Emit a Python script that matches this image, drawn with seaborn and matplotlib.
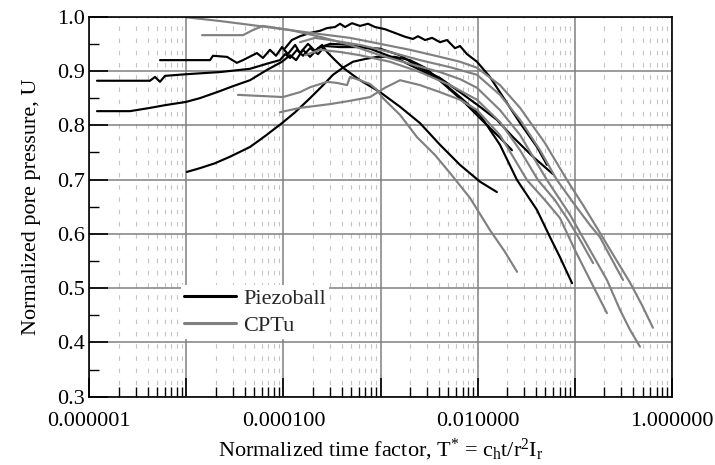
import numpy as np
import pandas as pd
import matplotlib
matplotlib.use("Agg")
import matplotlib.pyplot as plt
import seaborn as sns
from matplotlib.ticker import LogLocator, FixedLocator, FixedFormatter, MultipleLocator, NullFormatter

# ---------------- data ----------------
# Piezoball curves
pb1_T = [1.20e-6, 4.22e-6, 4.75e-6, 5.35e-6, 6.02e-6, 9.9e-6, 2.22e-5, 4.52e-5, 7.26e-5, 9.2e-5, 1.04e-4,
         1.17e-4, 1.38e-4, 1.59e-4, 1.88e-4, 2.27e-4, 2.68e-4, 3.83e-4, 6.15e-4, 9.9e-4, 1.59e-3, 2.55e-3,
         4.10e-3, 6.59e-3, 1.06e-2, 1.58e-2, 2.32e-2, 3.72e-2, 5.98e-2]
pb1_U = [0.882, 0.882, 0.889, 0.880, 0.891, 0.894, 0.898, 0.904, 0.915, 0.920, 0.931,
         0.924, 0.939, 0.928, 0.942, 0.931, 0.946, 0.944, 0.944, 0.941, 0.929, 0.906,
         0.887, 0.861, 0.834, 0.810, 0.778, 0.742, 0.710]

pb2_T = [5.35e-6, 1.75e-5, 1.88e-5, 2.62e-5, 3.31e-5, 3.83e-5, 5.33e-5, 6.15e-5, 7.26e-5, 8.38e-5, 9.66e-5,
         1.11e-4, 1.32e-4, 1.48e-4, 1.79e-4, 2.11e-4, 2.50e-4, 2.81e-4, 3.40e-4, 4.10e-4, 6.15e-4, 9.9e-4,
         1.59e-3, 2.55e-3, 4.10e-3, 6.59e-3, 1.06e-2, 1.58e-2]
pb2_U = [0.920, 0.920, 0.928, 0.926, 0.915, 0.920, 0.933, 0.924, 0.939, 0.928, 0.944,
         0.931, 0.948, 0.933, 0.950, 0.937, 0.948, 0.935, 0.920, 0.906, 0.883, 0.861,
         0.834, 0.804, 0.764, 0.727, 0.696, 0.677]

pb3_T = [1.20e-6, 2.63e-6, 4.22e-6, 6.02e-6, 9.9e-6, 1.38e-5, 2.07e-5, 3.02e-5, 4.52e-5, 6.77e-5, 9.66e-5,
         1.17e-4, 1.35e-4, 1.59e-4, 1.88e-4, 2.27e-4, 3.02e-4, 4.85e-4, 7.8e-4, 1.59e-3, 2.55e-3, 4.10e-3,
         6.59e-3, 1.06e-2, 1.70e-2, 2.55e-2, 4.09e-2, 5.57e-2, 7.06e-2, 9.4e-2]
pb3_U = [0.826, 0.826, 0.832, 0.837, 0.843, 0.850, 0.861, 0.872, 0.883, 0.902, 0.917,
         0.929, 0.920, 0.939, 0.926, 0.942, 0.950, 0.948, 0.941, 0.920, 0.902, 0.883,
         0.852, 0.819, 0.764, 0.699, 0.644, 0.594, 0.557, 0.509]

pb4_T = [1.01e-5, 1.38e-5, 1.97e-5, 2.81e-5, 4.52e-5, 6.46e-5, 9.66e-5, 1.32e-4, 1.88e-4, 2.50e-4, 3.24e-4,
         4.10e-4, 5.20e-4, 6.92e-4, 9.2e-4, 1.41e-3, 2.01e-3, 2.88e-3, 4.61e-3, 7.41e-3, 1.19e-2, 1.70e-2,
         2.26e-2]
pb4_U = [0.714, 0.721, 0.730, 0.742, 0.760, 0.780, 0.804, 0.824, 0.850, 0.872, 0.893,
         0.906, 0.917, 0.922, 0.926, 0.926, 0.920, 0.906, 0.874, 0.841, 0.804, 0.777,
         0.754]

pb5_T = [1.04e-4, 1.22e-4, 1.48e-4, 1.88e-4, 2.38e-4, 2.81e-4, 3.40e-4, 3.83e-4, 4.31e-4, 5.08e-4, 6.15e-4,
         7.43e-4, 8.77e-4, 1.11e-3, 1.41e-3, 1.79e-3, 2.16e-3, 2.43e-3, 2.88e-3, 3.40e-3, 4.10e-3, 4.84e-3,
         5.85e-3, 6.59e-3, 7.78e-3, 9.86e-3, 1.34e-2, 1.83e-2, 2.74e-2, 4.09e-2, 5.19e-2]
pb5_U = [0.942, 0.957, 0.964, 0.970, 0.974, 0.979, 0.981, 0.987, 0.981, 0.988, 0.983,
         0.987, 0.981, 0.977, 0.970, 0.963, 0.959, 0.964, 0.957, 0.961, 0.953, 0.957,
         0.942, 0.946, 0.931, 0.917, 0.889, 0.852, 0.804, 0.760, 0.727]

# CPTu curves
cp1_T = [9.9e-6, 2.22e-5, 4.52e-5, 9.89e-5, 2.38e-4, 4.85e-4, 9.9e-4, 2.01e-3, 4.10e-3, 6.59e-3, 9.86e-3,
         1.70e-2, 2.74e-2, 4.95e-2, 8.34e-2, 0.122, 0.182, 0.260, 0.372, 0.493, 0.640]
cp1_U = [0.999, 0.992, 0.985, 0.977, 0.968, 0.961, 0.950, 0.939, 0.926, 0.917, 0.906,
         0.874, 0.832, 0.767, 0.699, 0.653, 0.602, 0.556, 0.510, 0.469, 0.427]

cp2_T = [1.45e-5, 3.83e-5, 4.86e-5, 6.15e-5, 1.17e-4, 2.38e-4, 4.85e-4, 9.9e-4, 2.01e-3, 4.10e-3, 6.59e-3,
         9.86e-3, 1.70e-2, 2.74e-2, 5.19e-2, 8.96e-2, 0.144, 0.215, 0.293, 0.372, 0.471]
cp2_U = [0.966, 0.966, 0.9755, 0.983, 0.9755, 0.963, 0.948, 0.929, 0.913, 0.898, 0.885,
         0.869, 0.828, 0.782, 0.699, 0.635, 0.570, 0.515, 0.460, 0.423, 0.392]

cp3_T = [1.48e-4, 2.11e-4, 3.02e-4, 6.15e-4, 1.25e-3, 2.55e-3, 5.2e-3, 9.86e-3, 1.70e-2, 2.74e-2, 4.40e-2,
         6.58e-2, 0.1007, 0.144, 0.182, 0.243, 0.315]
cp3_U = [0.953, 0.961, 0.957, 0.948, 0.935, 0.920, 0.907, 0.893, 0.856, 0.810, 0.754,
         0.699, 0.653, 0.616, 0.594, 0.552, 0.515]

cp4_T = [1.67e-4, 2.38e-4, 3.83e-4, 6.15e-4, 1.25e-3, 2.55e-3, 5.2e-3, 9.86e-3, 1.70e-2, 2.74e-2, 4.19e-2,
         6.27e-2, 8.53e-2, 0.1135, 0.155]
cp4_U = [0.929, 0.939, 0.935, 0.929, 0.917, 0.898, 0.874, 0.847, 0.806, 0.754, 0.699,
         0.662, 0.626, 0.589, 0.546]

cp5_T = [9.2e-5, 1.48e-4, 3.02e-4, 4.85e-4, 7.8e-4, 1.11e-3, 1.59e-3, 2.55e-3, 4.10e-3, 6.59e-3, 9.86e-3,
         1.70e-2, 2.43e-2, 3.23e-2, 4.95e-2, 7.06e-2, 0.1007, 0.144, 0.215]
cp5_U = [0.824, 0.832, 0.839, 0.845, 0.852, 0.869, 0.883, 0.874, 0.861, 0.847, 0.828,
         0.782, 0.736, 0.699, 0.662, 0.629, 0.570, 0.515, 0.454]

cp6_T = [3.40e-5, 5.73e-5, 9.89e-5, 1.48e-4, 1.88e-4, 2.81e-4, 3.56e-4, 4.52e-4, 4.85e-4, 6.15e-4, 7.8e-4,
         9.2e-4, 1.06e-3, 1.59e-3, 2.38e-3, 3.65e-3, 5.2e-3, 8.36e-3, 1.34e-2, 1.91e-2, 2.55e-2]
cp6_U = [0.856, 0.854, 0.852, 0.861, 0.870, 0.880, 0.878, 0.874, 0.889, 0.883, 0.876,
         0.865, 0.850, 0.819, 0.778, 0.745, 0.712, 0.666, 0.607, 0.567, 0.530]

curve_types = ["Piezoball", "CPTu"]
x_tick_labels = ["0.000001", "", "0.000100", "", "0.010000", "", "1.000000"]

# ---------------- build long table ----------------
curves = [
    ("pb1", "Piezoball", pb1_T, pb1_U), ("pb2", "Piezoball", pb2_T, pb2_U),
    ("pb3", "Piezoball", pb3_T, pb3_U), ("pb4", "Piezoball", pb4_T, pb4_U),
    ("pb5", "Piezoball", pb5_T, pb5_U),
    ("cp1", "CPTu", cp1_T, cp1_U), ("cp2", "CPTu", cp2_T, cp2_U),
    ("cp3", "CPTu", cp3_T, cp3_U), ("cp4", "CPTu", cp4_T, cp4_U),
    ("cp5", "CPTu", cp5_T, cp5_U), ("cp6", "CPTu", cp6_T, cp6_U),
]
rows = []
for name, kind, T, U in curves:
    for i, (t, u) in enumerate(zip(T, U)):
        rows.append({"curve": name, "type": kind, "order": i, "T": t, "U": u})
df = pd.DataFrame(rows)

# ---------------- style ----------------
sns.set_theme(style="white")
plt.rcParams["font.family"] = ["Liberation Serif", "DejaVu Serif"]
plt.rcParams["mathtext.fontset"] = "custom"
plt.rcParams["mathtext.rm"] = "Liberation Serif"
plt.rcParams["mathtext.it"] = "Liberation Serif"
plt.rcParams["mathtext.default"] = "rm"

fig = plt.figure(figsize=(7.15, 4.65), dpi=100)
ax = fig.add_axes([0.1249, 0.1469, 0.8146, 0.8172])

ax.set_xscale("log")
ax.set_axisbelow(True)

sns.lineplot(data=df, x="T", y="U", hue="type", hue_order=curve_types,
             units="curve", estimator=None, sort=False,
             palette={"Piezoball": "black", "CPTu": "#808080"},
             linewidth=1.55, ax=ax)

ax.set_xlim(1e-6, 1.0)
ax.set_ylim(0.3, 1.0)

# ticks
ax.xaxis.set_major_locator(FixedLocator([1e-6, 1e-5, 1e-4, 1e-3, 1e-2, 1e-1, 1e0]))
ax.xaxis.set_major_formatter(FixedFormatter(x_tick_labels))
ax.xaxis.set_minor_locator(LogLocator(base=10, subs=np.arange(2, 10), numticks=20))
ax.xaxis.set_minor_formatter(NullFormatter())
ax.yaxis.set_major_locator(MultipleLocator(0.1))
ax.yaxis.set_minor_locator(MultipleLocator(0.05))
ax.yaxis.set_major_formatter(matplotlib.ticker.FormatStrFormatter("%.1f"))

ax.tick_params(which="major", direction="in", length=13.5, width=1.2, color="black",
               labelsize=16, labelcolor="black", bottom=True, left=True, top=False, right=False)
ax.tick_params(which="minor", direction="in", length=7, width=1.0, color="black",
               bottom=True, left=True, top=False, right=False)
ax.tick_params(axis="x", which="major", pad=11)
ax.tick_params(axis="y", which="major", pad=3)

# grid
ax.grid(which="major", axis="both", color="#808080", linewidth=1.1, linestyle="-")
ax.grid(which="minor", axis="x", color="#c4c4c4", linewidth=0.8, linestyle=(0, (4, 7)))

for sp in ax.spines.values():
    sp.set_color("black")
    sp.set_linewidth(1.2)
    sp.set_visible(True)

ax.set_xlabel(r"Normalized time factor, T$^{*}$ = c$_{\mathrm{h}}$t/r$^{2}$I$_{\mathrm{r}}$",
              fontsize=16, color="black", labelpad=4)
ax.set_ylabel("Normalized pore pressure, U", fontsize=16, color="black", labelpad=12)

handles, labels = ax.get_legend_handles_labels()
leg = ax.legend(handles, labels, loc="upper left", bbox_to_anchor=(0.157, 0.294),
                frameon=True, fancybox=False, framealpha=1.0, facecolor="white",
                edgecolor="none", fontsize=16, handlelength=2.35, handletextpad=0.3,
                labelspacing=0.3, borderpad=0.15, borderaxespad=0.0)
for line in leg.get_lines():
    line.set_linewidth(2.2)

fig.savefig("out.png", dpi=100)
